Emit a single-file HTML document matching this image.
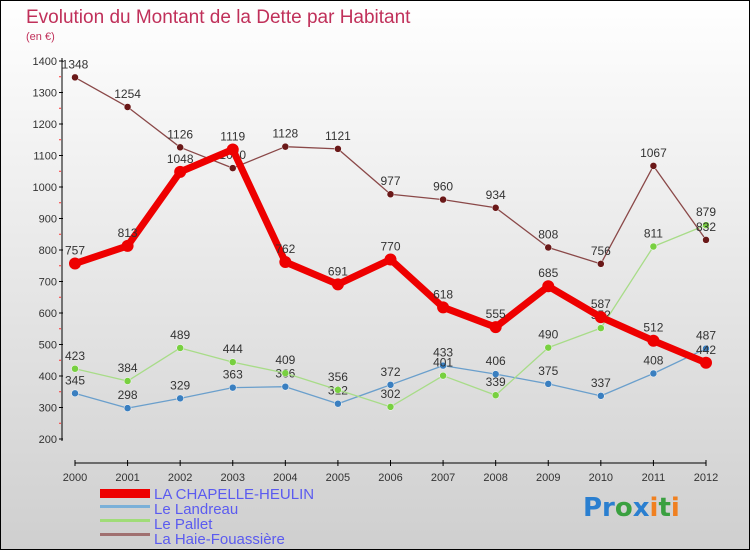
<!DOCTYPE html>
<html><head><meta charset="utf-8"><style>
html,body{margin:0;padding:0}
body{width:750px;height:550px;overflow:hidden;font-family:"Liberation Sans","DejaVu Sans",sans-serif}
</style></head><body>
<svg id="c" width="750" height="550" xmlns="http://www.w3.org/2000/svg">
<defs><linearGradient id="bg" x1="0" y1="0" x2="0" y2="1"><stop offset="0" stop-color="#ffffff"/><stop offset="1" stop-color="#cfcfcf"/></linearGradient></defs>
<rect x="0.5" y="0.5" width="749" height="549" fill="url(#bg)" stroke="#000"/>
<text x="26" y="23" font-size="19" fill="#c0305a">Evolution du Montant de la Dette par Habitant</text>
<text x="26" y="40" font-size="11" fill="#c0305a">(en €)</text>
<g id="axes"></g>
<g id="series"></g>
<g font-size="15" fill="#5b5bf0">
<rect x="100" y="489" width="50" height="9" fill="#e00"/>
<text x="154" y="499">LA CHAPELLE-HEULIN</text>
<rect x="100" y="505" width="50" height="3" fill="#7ab0d8"/>
<text x="154" y="514">Le Landreau</text>
<rect x="100" y="519" width="50" height="3" fill="#a0dc78"/>
<text x="154" y="529">Le Pallet</text>
<rect x="100" y="533" width="50" height="3" fill="#a07070"/>
<text x="154" y="544">La Haie-Fouassière</text>
</g>
<g font-size="26" font-weight="bold" font-family="'DejaVu Sans',sans-serif">
<text x="583" y="516"><tspan fill="#2a7fd0">Pr</tspan><tspan fill="#3aa040">o</tspan><tspan fill="#2a7fd0">x</tspan><tspan fill="#f08020">i</tspan><tspan fill="#3aa040">t</tspan><tspan fill="#f08020">i</tspan></text>
</g>
</svg>
<script>
const years=[2000,2001,2002,2003,2004,2005,2006,2007,2008,2009,2010,2011,2012];
const yTicks=[200,300,400,500,600,700,800,900,1000,1100,1200,1300,1400];
const chapelle=[757,813,1048,1119,762,691,770,618,555,685,587,512,442];
const landreau=[345,298,329,363,366,312,372,433,406,375,337,408,487];
const pallet=[423,384,489,444,409,356,302,401,339,490,552,811,879];
const haie=[1348,1254,1126,1060,1128,1121,977,960,934,808,756,1067,832];
const NS="http://www.w3.org/2000/svg";
function X(i){return 75+i*(706-75)/(years.length-1);}
function Y(v){return 439-(v-200)*(439-61)/1200;}
function mk(t,a,p){const e=document.createElementNS(NS,t);for(const k in a)e.setAttribute(k,a[k]);p.appendChild(e);return e;}
const ax=document.getElementById('axes');
mk('line',{x1:62,y1:58,x2:62,y2:441,stroke:'#000','stroke-width':1},ax);
yTicks.forEach(v=>{
 const y=Y(v);
 const t=mk('line',{x1:59,y1:y,x2:63,y2:y,stroke:'#000'},ax);
 
 
 if(v<1400){const m=mk('line',{x1:59,y1:y-15.75,x2:61,y2:y-15.75,stroke:'#f33'},ax);}
 const l=mk('text',{x:57,y:y+4,'text-anchor':'end','font-size':11,fill:'#333'},ax);
 
 
 l.textContent=v;
});
mk('line',{x1:75,y1:463,x2:706,y2:463,stroke:'#000'},ax);
years.forEach((yr,i)=>{
 const x=X(i);
 mk('line',{x1:x,y1:460,x2:x,y2:466,stroke:'#000'},ax);
 const l=mk('text',{x:x,y:481,'text-anchor':'middle','font-size':11,fill:'#333'},ax);
 
 
 l.textContent=yr;
});
const sg=document.getElementById('series');
function draw(name,data,color,w,r,dot){
 const g=mk('g',{},sg);
 
 
 const p=mk('polyline',{points:data.map((v,i)=>X(i)+','+Y(v)).join(' '),fill:'none',stroke:color,'stroke-width':w,'stroke-linejoin':'round'},g);
 
 
 data.forEach((v,i)=>{
  const c=mk('circle',{cx:X(i),cy:Y(v),r:r,fill:dot,stroke:'#fff','stroke-width':w>3?0:0.5},g);
  
  
  const t=mk('text',{x:X(i),y:Y(v)-9,'text-anchor':'middle','font-size':12,fill:'#333'},g);
  
  
  t.textContent=v;
 });
}
draw('landreau',landreau,'#6a9fcc',1.3,3.5,'#3a7fc0');
draw('pallet',pallet,'#a8dc88',1.3,3.5,'#78d040');
draw('haie',haie,'#8a4848',1.3,3.5,'#6a1818');
draw('chapelle',chapelle,'#ee0000',7,6,'#ee0000');
</script>
</body></html>
